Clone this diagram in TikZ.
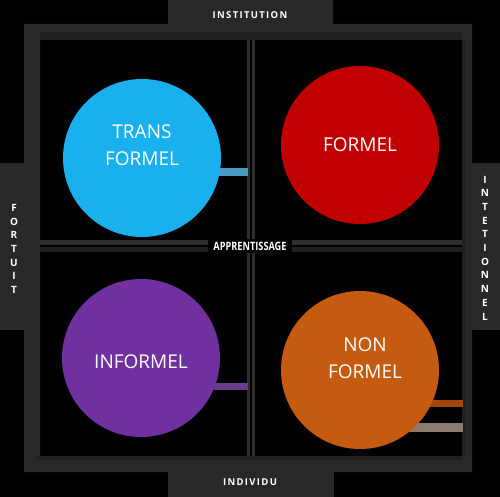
\documentclass[tikz,border=0pt]{standalone}
\usepackage{fontspec}
\setmainfont{Open Sans}
\definecolor{framegray}{HTML}{282828}
\definecolor{framedark}{HTML}{202020}
\definecolor{linegray}{HTML}{2E2E2E}
\definecolor{ctrans}{HTML}{1AB0EE}
\definecolor{cformel}{HTML}{C00000}
\definecolor{cinformel}{HTML}{7030A0}
\definecolor{cnonformel}{HTML}{C55A11}
\definecolor{btrans}{HTML}{4A9AC2}
\definecolor{binformel}{HTML}{6A3C8C}
\definecolor{bnonA}{HTML}{A2460C}
\definecolor{bnonB}{HTML}{8C7C70}
\begin{document}
\begin{tikzpicture}[x=1pt,y=-1pt,
  bubble/.style={circle,minimum size=158pt,inner sep=0pt,text=white,align=center,
    font=\fontsize{19}{27}\selectfont},
  bubbletext/.style={text=white,align=center,font=\fontsize{19}{27}\selectfont},
  tabbox/.style={inner sep=0pt,text=white,
    font=\bfseries\addfontfeature{LetterSpace=14}\fontsize{9.5}{10}\selectfont},
  sidetext/.style={text=white,inner sep=0pt,align=center,
    font=\bfseries\fontsize{10}{13.7}\selectfont}]
% background and canvas
\fill[black] (0,0) rectangle (500,497);
\useasboundingbox (0,0) rectangle (500,497);

% outer frame
\fill[framegray,even odd rule] (24,24) rectangle (472,472) (40,40) rectangle (462,456);
\fill[framedark] (40,32) rectangle (462,40);
\fill[framedark] (462,40) rectangle (465,456);
\fill[framedark] (36,456) rectangle (462,460);

% central cross (double lines)
\fill[linegray] (247,40) rectangle (250,456);
\fill[linegray] (252,40) rectangle (255,456);
\fill[linegray] (40,240) rectangle (462,245);
\fill[framedark] (40,247) rectangle (462,252);

% tabs on the four sides
\fill[framegray] (168,0) rectangle (333,28);
\fill[framegray] (168,463) rectangle (334,497);
\fill[framegray] (0,163) rectangle (40,330);
\fill[framegray] (465,163) rectangle (500,330);
\node[tabbox] (institution) at (250,15) {INSTITUTION};
\node[tabbox] (individu) at (250,482) {INDIVIDU};
\node[sidetext] (fortuit) at (14,249) {F\\O\\R\\T\\U\\I\\T};
\node[sidetext] (intentionnel) at (485,248) {I\\N\\T\\E\\T\\I\\O\\N\\N\\E\\L};

% small bars beside the circles
\fill[btrans] (212,168) rectangle (248,176);
\fill[binformel] (212,383) rectangle (248,390);
\fill[bnonA] (423,400) rectangle (463,407);
\fill[bnonB] (400,423) rectangle (463,432);

% circles
\node[bubble,fill=ctrans] (trans) at (142,158) {};
\node[bubbletext] (transtxt) at (142,145) {TRANS\\FORMEL};
\node[bubble,fill=cformel] (formel) at (360,145) {FORMEL};
\node[bubble,fill=cinformel] (informel) at (141,358) {};
\node[bubbletext] (informeltxt) at (141,362) {INFORMEL};
\node[bubble,fill=cnonformel] (nonformel) at (360,370) {};
\node[bubbletext] (nonformeltxt) at (365,358) {NON\\FORMEL};

% centre label
\node[fill=black,text=white,inner xsep=5pt,inner ysep=3pt,
  font=\bfseries\fontsize{11.5}{12}\selectfont] (apprentissage) at (250,246)
  {\scalebox{0.8}[1]{APPRENTISSAGE}};
\end{tikzpicture}
\end{document}
